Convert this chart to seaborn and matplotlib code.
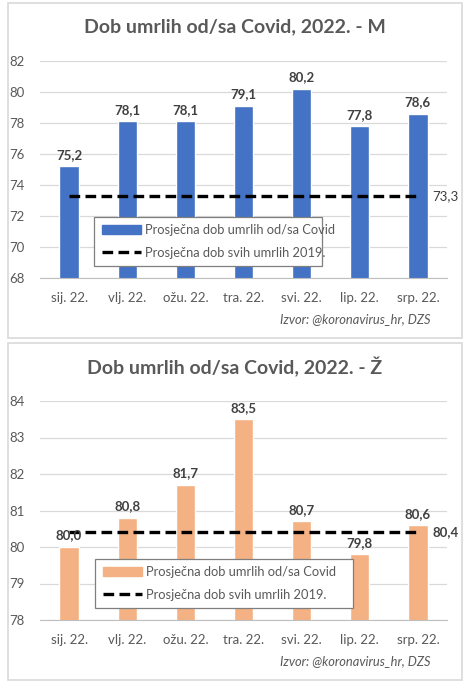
import matplotlib
matplotlib.use("Agg")
import matplotlib.pyplot as plt
import matplotlib.patches as mpatches
from matplotlib.lines import Line2D
import seaborn as sns
import pandas as pd

months = ["sij. 22.", "vlj. 22.", "ožu. 22.", "tra. 22.", "svi. 22.", "lip. 22.", "srp. 22."]
men_age = [75.2, 78.1, 78.1, 79.1, 80.2, 77.8, 78.6]
women_age = [80.0, 80.8, 81.7, 83.5, 80.7, 79.8, 80.6]
men_avg_2019 = 73.3
women_avg_2019 = 80.4

bar_label = "Prosječna dob umrlih od/sa Covid"
line_label = "Prosječna dob svih umrlih 2019."
source = "Izvor: @koronavirus_hr, DZS"

sns.set_style("white")
plt.rcParams["font.family"] = ["Lato", "DejaVu Sans"]

W, H = 470, 686
fig = plt.figure(figsize=(W / 100, H / 100), dpi=100)


def px_box(x0, y0, x1, y1):
    return [x0 / W, 1 - y1 / H, (x1 - x0) / W, (y1 - y0) / H]


def panel(box, plot_box, title, vals, avg, color, ylim, yticks, legend_box, avg_bold):
    bx = px_box(*box)
    fig.patches.append(mpatches.Rectangle((bx[0], bx[1]), bx[2], bx[3], transform=fig.transFigure,
                                          facecolor="white", edgecolor="#d9d9d9", lw=1.2, zorder=-5))
    ax = fig.add_axes(px_box(*plot_box))
    ax.patch.set_alpha(0)
    df = pd.DataFrame({"month": months, "age": vals, "avg": [avg] * len(months)})
    sns.barplot(data=df, x="month", y="age", color=color, width=0.33, ax=ax, saturation=1)
    sns.lineplot(data=df, x="month", y="avg", color="black", lw=2.4, ax=ax)
    ax.lines[-1].set_dashes([3.2, 1.6])
    ax.set_ylim(*ylim)
    ax.set_xlim(-0.5, 6.5)
    ax.set_yticks(yticks)
    ax.grid(axis="y", color="#d9d9d9", lw=0.9)
    ax.set_axisbelow(True)
    for s in ["top", "right", "left"]:
        ax.spines[s].set_visible(False)
    ax.spines["bottom"].set_color("#bfbfbf")
    ax.tick_params(axis="y", length=0, labelsize=9.5, labelcolor="#595959", pad=11)
    ax.tick_params(axis="x", length=0, labelsize=9.5, labelcolor="#595959", pad=10)
    ax.set_xticks([i - 0.5 for i in range(8)], minor=True)
    ax.tick_params(axis="x", which="minor", length=5, color="#bfbfbf", direction="out")
    ax.set_xlabel("")
    ax.set_ylabel("")
    for i, v in enumerate(vals):
        ax.text(i, v + (ylim[1] - ylim[0]) * 0.025, f"{v:.1f}".replace(".", ","), ha="center", va="bottom",
                fontsize=9.5, fontweight="bold", color="#404040")
    ax.text(6.25, avg, f"{avg:.1f}".replace(".", ","), ha="left", va="center", fontsize=9.5,
            fontweight="bold" if avg_bold else "normal", color="#404040")
    fig.text((box[0] + box[2]) / 2 / W, 1 - (box[1] + 24) / H, title, ha="center", va="center",
             fontsize=14, fontweight="bold", color="#595959")
    fig.text(430 / W, 1 - (box[3] - 19) / H, source, ha="right", va="center", fontsize=9.3,
             style="italic", color="#595959")
    handles = [mpatches.Patch(color=color), Line2D([0], [0], color="black", lw=2.4, dashes=[3.2, 1.6])]
    lb = px_box(*legend_box)
    leg = ax.legend(handles, [bar_label, line_label], loc="center", bbox_to_anchor=lb,
                    bbox_transform=fig.transFigure, mode="expand", fancybox=False, framealpha=1,
                    edgecolor="#7f7f7f", fontsize=9.3, labelcolor="#595959", handlelength=3.0,
                    handletextpad=0.3, labelspacing=0.8, borderpad=0.6)
    leg.get_frame().set_linewidth(0.9)
    return ax


panel((8, 3, 462, 338), (40, 61, 447, 278), "Dob umrlih od/sa Covid, 2022. - M", men_age, men_avg_2019,
      "#4472c4", (68, 82), range(68, 83, 2), (88, 217, 328, 266), False)
panel((8, 343, 462, 680), (40, 401, 447, 620), "Dob umrlih od/sa Covid, 2022. - Ž", women_age, women_avg_2019,
      "#f4b183", (78, 84), range(78, 85, 1), (89, 557, 359, 610), True)

fig.savefig("out.png", dpi=100, facecolor="white")
